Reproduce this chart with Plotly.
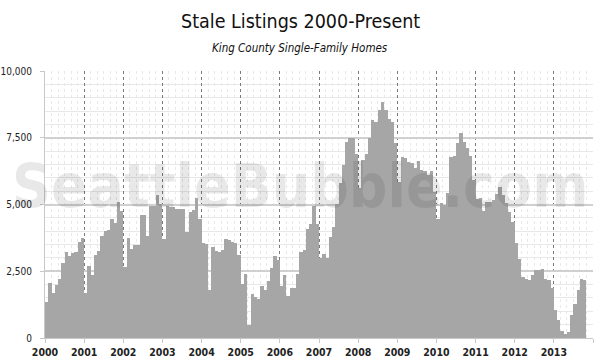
import plotly.graph_objects as go

# ---- data (monthly stale listings, King County SFH) ----
years = list(range(2000, 2014))
v2000 = [1350, 2060, 1690, 2000, 2225, 2825, 3225, 3075, 3190, 3225, 3600, 3760]
v2001 = [1690, 2690, 2350, 3100, 3260, 3825, 4000, 4040, 4440, 4290, 5100, 4750]
v2002 = [2660, 3760, 3350, 3500, 3500, 4600, 4600, 3810, 4950, 4950, 5350, 5010]
v2003 = [3725, 4950, 4910, 4910, 4850, 4850, 4825, 3975, 4725, 4790, 5225, 4475]
v2004 = [3540, 3510, 1790, 3410, 3260, 3225, 3290, 3700, 3660, 3600, 3540, 3100]
v2005 = [2040, 2410, 475, 1660, 1540, 1475, 1960, 1810, 2140, 2640, 3060, 2910]
v2006 = [1950, 2350, 1575, 1875, 1890, 2410, 3225, 3290, 4100, 4260, 4950, 4260]
v2007 = [3010, 3160, 3000, 3790, 4160, 5010, 5790, 6475, 7350, 7500, 7500, 6875]
v2008 = [5600, 6660, 6875, 7475, 8160, 8100, 8540, 8850, 8540, 8190, 8100, 7290]
v2009 = [5850, 6790, 6725, 6600, 6540, 6350, 6625, 6290, 6250, 6100, 6260, 5475]
v2010 = [4440, 5075, 4975, 5440, 6790, 6810, 7290, 7660, 7350, 7100, 6810, 5910]
v2011 = [5200, 5250, 4750, 5100, 5100, 5160, 5410, 5660, 5350, 5040, 4725, 4350]
v2012 = [3540, 2975, 2290, 2225, 2160, 2350, 2540, 2560, 2600, 2225, 2160, 1875]
v2013 = [1040, 660, 260, 160, 225, 850, 1290, 1790, 2225, 2190]

series = [v2000, v2001, v2002, v2003, v2004, v2005, v2006, v2007,
          v2008, v2009, v2010, v2011, v2012, v2013]

y_ticks = [0, 2500, 5000, 7500, 10000]
y_labels = ["0", "2,500", "5,000", "7,500", "10,000"]
x_ticks = list(range(2000, 2015))
x_labels = [str(y) for y in years] + [""]

title = "Stale Listings 2000-Present"
subtitle = "King County Single-Family Homes"
watermark = "SeattleBubble.com"

# ---- build monthly positions ----
xs, vals = [], []
for yr, lst in zip(years, series):
    for m, v in enumerate(lst):
        xs.append(yr + (m + 0.5) / 12)
        vals.append(v)

FONT = "DejaVu Sans Condensed, Liberation Sans Narrow, sans-serif"

fig = go.Figure()
fig.add_trace(go.Bar(x=xs, y=vals, width=1 / 12, marker=dict(color="#a6a6a6", line=dict(width=0)),
                     hoverinfo="x+y"))

fig.update_layout(
    width=600, height=364,
    margin=dict(l=45, r=7, t=71, b=26),
    paper_bgcolor="white", plot_bgcolor="white",
    bargap=0, showlegend=False,
    font=dict(family=FONT, color="#222"),
    xaxis=dict(range=[2000, 2014], tickvals=x_ticks, ticktext=x_labels,
               showgrid=True, gridcolor="#7a7a7a", griddash="dot", gridwidth=1,
               minor=dict(dtick=1 / 6, tick0=2000, showgrid=True, gridcolor="#e8e8e8", gridwidth=1,
                          ticks=""),
               ticks="outside", ticklen=4, tickcolor="#c8c8c8",
               showline=True, linecolor="#c8c8c8", linewidth=1,
               tickfont=dict(family=FONT, size=10.5, color="#222", weight="bold"),
               automargin=False, zeroline=False, fixedrange=True),
    yaxis=dict(range=[0, 10000], tickvals=y_ticks, ticktext=y_labels,
               showgrid=True, gridcolor="#d0d0d0", gridwidth=1.5,
               minor=dict(dtick=500, tick0=0, showgrid=True, gridcolor="#e8e8e8", gridwidth=1, ticks=""),
               ticks="outside", ticklen=4, tickcolor="#c8c8c8",
               showline=True, linecolor="#c8c8c8", linewidth=1,
               tickfont=dict(family=FONT, size=10, color="#222"),
               ticklabelstandoff=6,
               automargin=False, zeroline=False, fixedrange=True),
    annotations=[
        dict(text=title, xref="paper", yref="paper", x=(300 - 45) / 548, y=1 + 50 / 267,
             xanchor="center", yanchor="middle", showarrow=False,
             font=dict(family=FONT, size=19.5, color="#111")),
        dict(text=f"<i>{subtitle}</i>", xref="paper", yref="paper", x=(300 - 45) / 548, y=1 + 23 / 267,
             xanchor="center", yanchor="middle", showarrow=False,
             font=dict(family=FONT, size=11.5, color="#111")),
        dict(text=watermark, xref="paper", yref="paper", x=(300 - 45) / 548, y=(338 - 186) / 267,
             xanchor="center", yanchor="middle", showarrow=False,
             font=dict(family=FONT, size=60, color="rgba(0,0,0,0.09)", weight="bold")),
    ],
)

fig.write_html("out.html", config={"displayModeBar": False},
               post_script="document.body.style.margin='0';document.body.style.padding='0';")
